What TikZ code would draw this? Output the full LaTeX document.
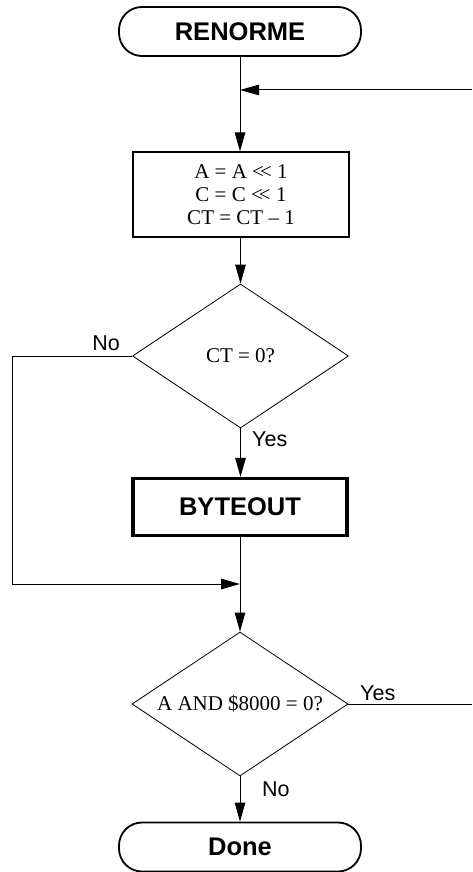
\documentclass[tikz,border=0pt]{standalone}
\usepackage{fontspec}
\setmainfont{Liberation Serif}
\newfontfamily\sansf{Liberation Sans}
\usetikzlibrary{shapes.geometric,arrows.meta}
\tikzset{
  term/.style={draw, line width=1.8pt, rounded corners=23pt, minimum width=242pt, minimum height=49pt, inner sep=0pt, font=\sansf\bfseries\fontsize{25.5}{28}\selectfont},
  procbox/.style={draw, line width=1.2pt, minimum width=216pt, minimum height=85pt, inner sep=0pt, align=center, font=\fontsize{21}{23}\selectfont},
  subbox/.style={draw, line width=3.2pt, minimum width=214pt, minimum height=57pt, inner sep=0pt, font=\sansf\bfseries\fontsize{25.5}{28}\selectfont},
  decis/.style={draw, line width=0.8pt, diamond, aspect=1.5, minimum width=216pt, minimum height=144pt, inner sep=0pt, font=\fontsize{21}{23}\selectfont},
  lbl/.style={anchor=base west, inner sep=0pt, font=\sansf\fontsize{21.5}{22}\selectfont},
  conn/.style={line width=1pt},
  arr/.style={line width=1pt, -{Triangle[length=19pt,width=10.5pt]}}
}
\begin{document}
\begin{tikzpicture}[x=1pt,y=-1pt]
\useasboundingbox (0,0) rectangle (472,872);
\node[term] (ren) at (240,31.5) {RENORME};
\node[procbox] (box1) at (241,194.5) {A = A <\kern-4pt< 1\\C = C <\kern-4pt< 1\\CT = CT – 1};
\node[decis] (d1) at (240.5,356) {CT = 0?};
\node[subbox] (byte) at (240,507) {BYTEOUT};
\node[decis] (d2) at (240,704) {A AND \$8000 = 0?};
\node[term] (done) at (240,847) {Done};
\coordinate (m1) at (240,90);
\coordinate (r1) at (472,90);
\coordinate (j) at (240,584);
\coordinate (c1) at (12,356);
\coordinate (c2) at (12,584);
\coordinate (r2) at (472,704);
\draw[arr] (ren.south) -- (ren.south |- box1.north);
\draw[arr] (r1) -- (m1);
\draw[arr] (box1.south -| d1.north) -- (d1.north);
\draw[arr] (d1.south) -- (d1.south |- byte.north);
\draw[conn] (byte.south) -- (j);
\draw[arr] (d1.west) -- (c1) -- (c2) -- (j);
\draw[arr] (j) -- (d2.north);
\draw[conn] (d2.east) -- (r2);
\draw[arr] (d2.south) -- (done.north);
\node[lbl, anchor=base east] (no1) at (120,350) {No};
\node[lbl] (yes1) at (252,446.7) {Yes};
\node[lbl] (yes2) at (360,700) {Yes};
\node[lbl] (no2) at (262,796) {No};
\end{tikzpicture}
\end{document}
